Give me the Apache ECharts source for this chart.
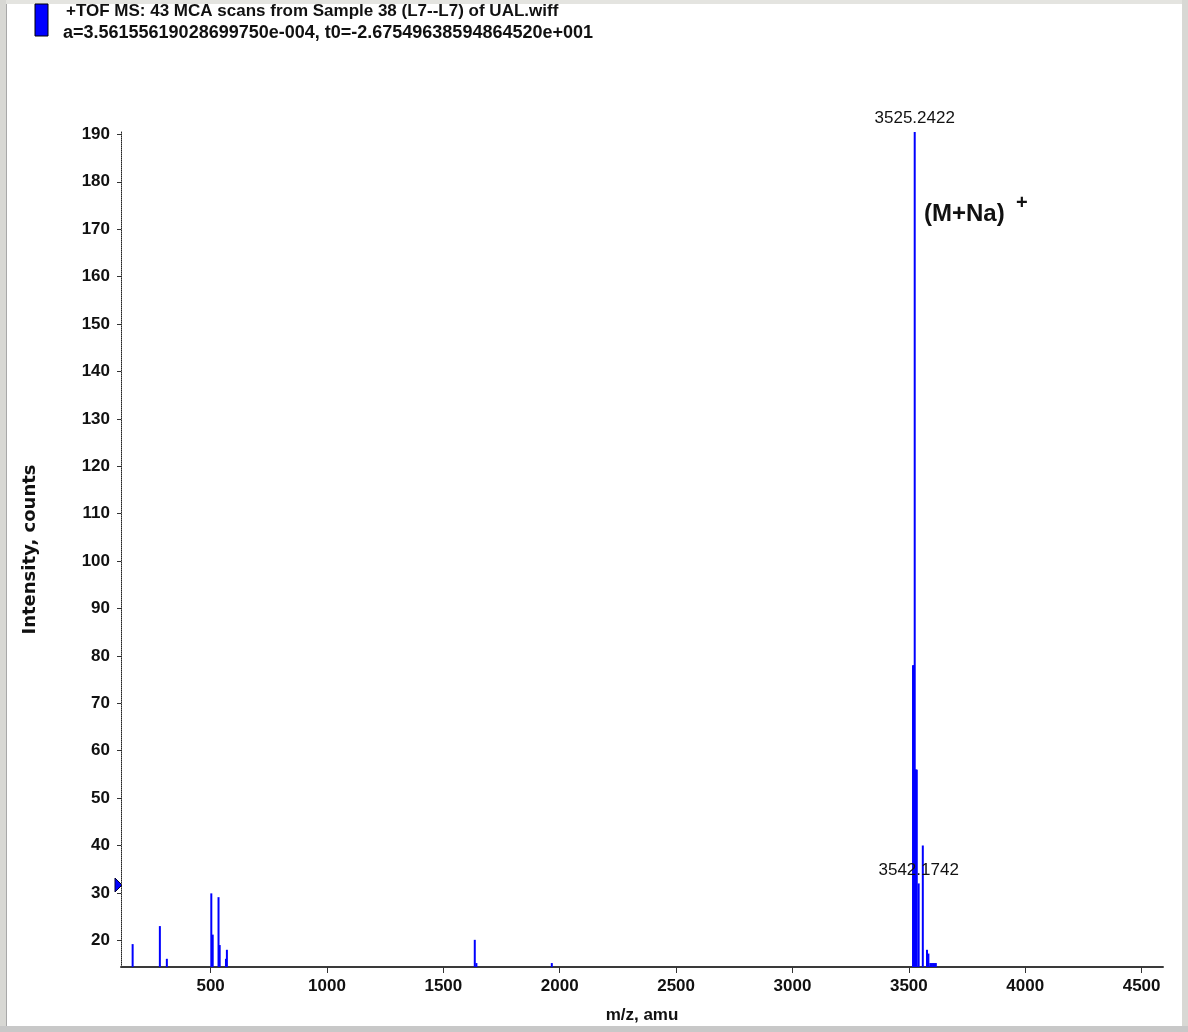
<!DOCTYPE html>
<html>
<head>
<meta charset="utf-8">
<title>+TOF MS spectrum</title>
<script src="https://cdn.jsdelivr.net/npm/echarts@6/dist/echarts.min.js"></script>
<style>
  html, body { margin: 0; padding: 0; background: #ffffff; }
  #chart { width: 1188px; height: 1032px; }
</style>
</head>
<body>
<div id="chart"></div>
<script>
// Centroided peaks: m/z (amu) and intensity (counts)
const peakMz = [
  165, 282, 312, 503, 509, 534, 539, 566, 570,
  1635, 1642, 1966,
  3518, 3521, 3525.2422, 3528, 3531, 3534,
  3542.1742, 3560, 3578, 3584, 3592, 3598, 3604, 3610, 3616
];
const peakIntensity = [
  19.2, 23.0, 16.1, 29.9, 21.2, 29.1, 19.0, 16.1, 18.0,
  20.1, 15.2, 15.2,
  78, 78, 190.5, 56, 56, 56,
  32, 40, 18.0, 17.2, 15.2, 15.2, 15.2, 15.2, 15.2
];
// Peaks annotated with their centroid m/z
const labeledMz = [3525.2422, 3542.1742];

const mzTicks = [500, 1000, 1500, 2000, 2500, 3000, 3500, 4000, 4500];
const intensityTicks = [20, 30, 40, 50, 60, 70, 80, 90, 100, 110, 120, 130, 140, 150, 160, 170, 180, 190];

const titleLine1 = '+TOF MS: 43 MCA scans from Sample 38 (L7--L7) of UAL.wiff';
const titleLine2 = 'a=3.56155619028699750e-004, t0=-2.67549638594864520e+001';
const adductLabel = '(M+Na)';

const FONT = '"Liberation Sans", Arial, sans-serif';
const BLUE = '#0000ff';

const seriesData = peakMz.map((mz, i) => {
  const item = { value: [mz, peakIntensity[i]] };
  if (labeledMz.includes(mz)) {
    item.label = {
      show: true,
      position: 'top',
      distance: 5,
      formatter: () => mz.toFixed(4),
      fontFamily: FONT,
      fontSize: 17,
      color: '#111111'
    };
  }
  return item;
});

const chart = echarts.init(document.getElementById('chart'), null, { renderer: 'canvas' });

chart.setOption({
  backgroundColor: '#ffffff',
  animation: false,
  grid: { left: 121, right: 25, top: 132, bottom: 65, containLabel: false },
  xAxis: {
    type: 'value',
    min: 115,
    max: 4592,
    name: 'm/z, amu',
    nameLocation: 'middle',
    nameGap: 40,
    nameTextStyle: { fontFamily: FONT, fontSize: 17, fontWeight: 'bold', color: '#111111' },
    axisLine: { show: true, onZero: false, lineStyle: { color: '#3a3a3a', width: 2 } },
    axisTick: { show: true, customValues: mzTicks, length: 6, lineStyle: { color: '#333333', width: 1 } },
    axisLabel: {
      customValues: mzTicks,
      formatter: (v) => String(v),
      margin: 11,
      fontFamily: FONT,
      fontSize: 17,
      fontWeight: 'bold',
      color: '#111111'
    },
    splitLine: { show: false }
  },
  yAxis: {
    type: 'value',
    min: 14.37,
    max: 190.5,
    name: 'Intensity, counts',
    nameLocation: 'middle',
    nameRotate: 90,
    nameGap: 82,
    nameTextStyle: { fontFamily: '"DejaVu Sans", sans-serif', fontSize: 18, fontWeight: 'bold', color: '#111111' },
    axisLine: { show: true, onZero: false, lineStyle: { color: '#222222', width: 1, type: 'dotted' } },
    axisTick: { show: true, customValues: intensityTicks, length: 4, lineStyle: { color: '#333333' } },
    axisLabel: {
      customValues: intensityTicks,
      formatter: (v) => String(v),
      margin: 11,
      fontFamily: FONT,
      fontSize: 17,
      fontWeight: 'bold',
      color: '#111111'
    },
    splitLine: { show: false }
  },
  series: [{
    type: 'bar',
    data: seriesData,
    barWidth: 2,
    clip: true,
    itemStyle: { color: BLUE },
    emphasis: { disabled: true }
  }],
  graphic: [
    // window frame
    { type: 'rect', shape: { x: 0, y: 0, width: 1188, height: 4 }, style: { fill: '#e4e4e0' }, silent: true },
    { type: 'rect', shape: { x: 0, y: 0, width: 6, height: 1032 }, style: { fill: '#d8d8d4' }, silent: true },
    { type: 'rect', shape: { x: 6, y: 4, width: 1, height: 1022 }, style: { fill: '#a8a8a8' }, silent: true },
    { type: 'rect', shape: { x: 1182, y: 0, width: 6, height: 1032 }, style: { fill: '#d8d8d4' }, silent: true },
    { type: 'rect', shape: { x: 0, y: 1026, width: 1188, height: 6 }, style: { fill: '#c8c8c8' }, silent: true },
    // legend swatch
    { type: 'rect', shape: { x: 35, y: 4, width: 13, height: 32 }, style: { fill: BLUE, stroke: '#000000', lineWidth: 1 }, silent: true },
    // title lines
    { type: 'text', left: 66, top: 3, style: { text: titleLine1, font: 'bold 17px ' + FONT, fill: '#111111' }, silent: true },
    { type: 'text', left: 63, top: 24, style: { text: titleLine2, font: 'bold 18px ' + FONT, fill: '#111111' }, silent: true },
    // adduct annotation
    { type: 'text', left: 924, top: 202, style: { text: adductLabel, font: 'bold 24px ' + FONT, fill: '#111111' }, silent: true },
    { type: 'text', left: 1016, top: 193, style: { text: '+', font: 'bold 20px ' + FONT, fill: '#111111' }, silent: true },
    // cursor marker on the intensity axis
    { type: 'polygon', shape: { points: [[115, 878], [122, 885], [115, 892]] }, style: { fill: BLUE, stroke: '#000033', lineWidth: 1 }, silent: true }
  ]
});
</script>
</body>
</html>
